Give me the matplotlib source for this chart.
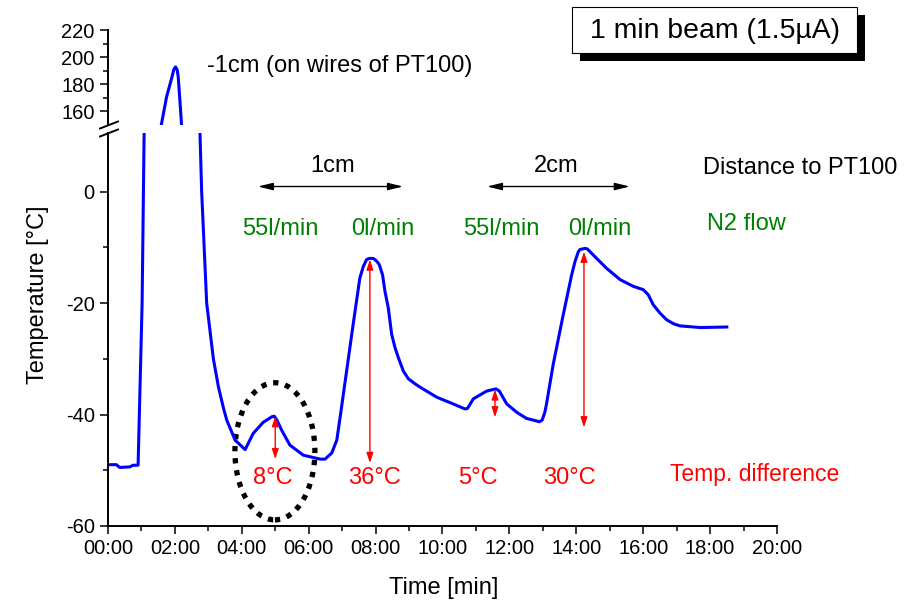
import matplotlib
matplotlib.use("Agg")
import matplotlib.pyplot as plt
from matplotlib.patches import Ellipse, Rectangle
from matplotlib.lines import Line2D

plt.rcParams["font.family"] = ["Liberation Sans", "DejaVu Sans"]
plt.rcParams["axes.unicode_minus"] = False

# PT100 reading, time in minutes
time_min = [0, 0.25, 0.35, 0.65, 0.75, 0.90, 1.02, 1.08, 1.59, 1.75, 1.90, 1.97, 2.02,
            2.07, 2.10, 2.15, 2.20, 2.75, 2.80, 2.95, 3.15, 3.30, 3.45, 3.55, 3.80, 4.10,
            4.34, 4.64, 4.90, 4.97, 5.05, 5.19, 5.44, 5.84, 6.34, 6.49, 6.69, 6.84, 6.94,
            7.08, 7.33, 7.53, 7.63, 7.73, 7.81, 7.93, 8.02, 8.11, 8.21, 8.28, 8.38, 8.48,
            8.58, 8.68, 8.83, 8.98, 9.18, 9.33, 9.83, 10.32, 10.67, 10.75, 10.92, 11.32,
            11.60, 11.70, 11.92, 12.22, 12.51, 12.71, 12.90, 12.98, 13.06, 13.11, 13.31,
            13.61, 13.86, 13.96, 14.06, 14.11, 14.26, 14.33, 14.51, 14.61, 14.91, 15.31,
            15.70, 16.00, 16.15, 16.30, 16.50, 16.70, 16.90, 17.10, 17.70, 18.50]
temp_c = [-49.0, -49.0, -49.5, -49.4, -49.1, -49.1, -20.0, 10.5, 149.6, 170.6, 184.2, 191.0, 192.8,
          190.5, 185.4, 168.0, 149.6, 10.5, 0.0, -20.0, -30.0, -35.0, -38.8, -41.0, -44.6, -46.3,
          -43.4, -41.4, -40.4, -40.3, -41.0, -42.8, -45.5, -47.3, -48.0, -48.0, -46.9, -44.6, -40.5,
          -34.5, -23.8, -15.5, -13.5, -12.2, -12.0, -12.0, -12.4, -13.1, -15.0, -17.9, -20.9, -25.6,
          -28.0, -29.8, -32.2, -33.6, -34.5, -35.1, -36.9, -38.1, -39.0, -38.9, -37.2, -35.8,
          -35.4, -35.8, -38.1, -39.6, -40.7, -41.0, -41.3, -41.0, -39.6, -38.1, -31.0,
          -22.1, -15.0, -12.6, -10.8, -10.4, -10.2, -10.3, -11.4, -12.0, -13.8, -15.8,
          -17.0, -17.6, -18.5, -20.3, -21.8, -23.0, -23.7, -24.1, -24.4, -24.3]

# temperature difference arrows
diff_t = [5.0, 7.83, 11.57, 14.23]
diff_top = [-40.3, -12.2, -35.5, -10.8]
diff_bottom = [-48.0, -48.7, -40.5, -42.3]
diff_labels = ["8°C", "36°C", "5°C", "30°C"]
diff_label_t = [4.93, 7.98, 11.07, 13.78]

flow_labels = ["55l/min", "0l/min", "55l/min", "0l/min"]
flow_t = [5.14, 8.22, 11.75, 14.71]

dist_labels = ["1cm", "2cm"]
dist_t = [6.70, 13.39]
dist_span = [(4.48, 8.82), (11.33, 15.60)]

xticks = list(range(0, 21, 2))
xtick_labels = ["%02d:00" % m for m in xticks]

fig = plt.figure(figsize=(9.06, 6.01), dpi=100)
ax = fig.add_axes([0.1192, 0.1248, 0.7384, 0.6539])
ax_top = fig.add_axes([0.1192, 0.792, 0.7384, 0.158], sharex=ax)

for a in (ax, ax_top):
    a.plot(time_min, temp_c, color="#0000ff", lw=2.2)
    a.spines["right"].set_visible(False)
    a.spines["top"].set_visible(False)
    a.spines["left"].set_linewidth(1.4)
    a.spines["bottom"].set_linewidth(1.4)
    a.tick_params(which="major", direction="out", length=6, width=1.1, labelsize=14.5)
    a.tick_params(which="minor", direction="out", length=3.5, width=1.1)

ax.set_xlim(0, 20)
ax.set_ylim(-60, 10.5)
ax.set_xticks(xticks)
ax.set_xticklabels(xtick_labels)
ax.set_xticks(range(1, 20, 2), minor=True)
ax.set_yticks([-60, -40, -20, 0])
ax.set_yticks([-50, -30, -10], minor=True)
ax.set_xlabel("Time [min]", fontsize=17)
ax.set_ylabel("Temperature [°C]", fontsize=17)
ax.xaxis.set_label_coords(0.5015, -0.130)
ax.yaxis.set_label_coords(-0.088, 0.588)

ax_top.set_ylim(150, 220)
ax_top.set_yticks([160, 180, 200, 220])
ax_top.set_yticks([170, 190, 210], minor=True)
ax_top.spines["bottom"].set_visible(False)
ax_top.tick_params(axis="x", which="both", bottom=False, labelbottom=False)

# axis break marks
for yp in (125, 133):
    y0 = 1 - (yp + 3.5) / 601
    y1 = 1 - (yp - 3.5) / 601
    fig.add_artist(Line2D([100 / 906, 118 / 906], [y0, y1], color="black", lw=1.4))

# temperature differences
for t, top, bot in zip(diff_t, diff_top, diff_bottom):
    ax.annotate("", xy=(t, top), xytext=(t, bot),
                arrowprops=dict(arrowstyle="<|-|>,head_length=0.6,head_width=0.2",
                                color="red", lw=1, shrinkA=0, shrinkB=0))
for t, lab in zip(diff_label_t, diff_labels):
    ax.text(t, -51.4, lab, color="red", fontsize=17, ha="center", va="center")
ax.text(16.8, -50.7, "Temp. difference", color="red", fontsize=16.5, ha="left", va="center")

# N2 flow
for t, lab in zip(flow_t, flow_labels):
    ax.text(t, -6.7, lab, color="#008000", fontsize=17, ha="center", va="center")
ax.text(17.91, -5.8, "N2 flow", color="#008000", fontsize=17, ha="left", va="center")

# distance
for t, lab, (t0, t1) in zip(dist_t, dist_labels, dist_span):
    ax.text(t, 4.5, lab, fontsize=17, ha="center", va="center")
    ax.annotate("", xy=(t0, 0.9), xytext=(t1, 0.9),
                arrowprops=dict(arrowstyle="<|-|>,head_length=0.9,head_width=0.22",
                                color="black", lw=1, shrinkA=0, shrinkB=0))
ax.text(17.79, 4.3, "Distance to PT100", fontsize=17, ha="left", va="center")

ax.add_patch(Ellipse((4.99, -46.6), 2.39, 24.6, fill=False, edgecolor="black",
                     lw=3.8, linestyle=(0, (1, 1.3)), clip_on=False))

fig.text(340 / 906, 1 - 66 / 601, "-1cm (on wires of PT100)", fontsize=17,
         ha="center", va="center")

# title box with shadow
fig.add_artist(Rectangle((580 / 906, 1 - 61 / 601), 285 / 906, 46 / 601,
                         facecolor="black", edgecolor="none", transform=fig.transFigure))
fig.add_artist(Rectangle((572 / 906, 1 - 53 / 601), 285 / 906, 46 / 601,
                         facecolor="white", edgecolor="black", lw=0.8,
                         transform=fig.transFigure))
fig.text(714.5 / 906, 1 - 31 / 601, "1 min beam (1.5µA)", fontsize=20.4,
         ha="center", va="center")

fig.savefig("out.png", dpi=100)
